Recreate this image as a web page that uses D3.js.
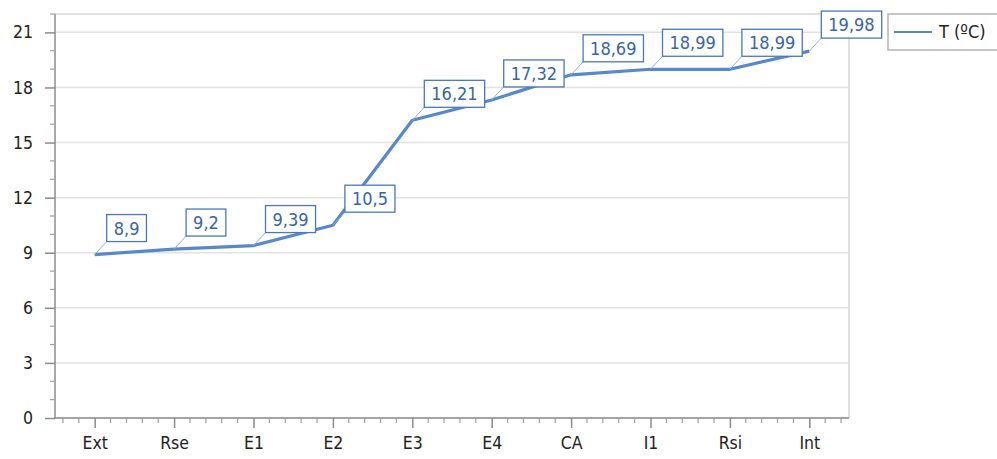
<!DOCTYPE html>
<html>
<head>
<meta charset="utf-8">
<script src="https://cdn.jsdelivr.net/npm/d3@7"></script>
<style>
  html, body { margin: 0; padding: 0; background: #fff; }
  svg { display: block; }
  text { font-family: "DejaVu Sans Condensed", "DejaVu Sans", sans-serif; }
</style>
</head>
<body>
<svg id="chart" width="997" height="459"></svg>
<script>
// Temperature profile through the wall layers
const categories = ["Ext", "Rse", "E1", "E2", "E3", "E4", "CA", "I1", "Rsi", "Int"];
const temperatures = [8.9, 9.2, 9.39, 10.5, 16.21, 17.32, 18.69, 18.99, 18.99, 19.98];
const yTicks = [0, 3, 6, 9, 12, 15, 18, 21];
const seriesName = "T (ºC)";

const W = 997, H = 459;
const plot = { left: 55, right: 849, top: 14, bottom: 418 };

const svg = d3.select("#chart");

const x = d3.scalePoint()
  .domain(categories)
  .range([plot.left, plot.right])
  .padding(0.5);

const y = d3.scaleLinear()
  .domain([0, 22])
  .range([plot.bottom, plot.top]);

const step = x.step();

// gridlines
svg.append("g")
  .selectAll("line")
  .data(yTicks)
  .join("line")
  .attr("x1", plot.left).attr("x2", plot.right)
  .attr("y1", d => y(d)).attr("y2", d => y(d))
  .attr("stroke", "#e2e2e2").attr("stroke-width", 1.5);

// top and right frame
svg.append("path")
  .attr("d", `M${plot.left},${plot.top}H${plot.right}V${plot.bottom}`)
  .attr("fill", "none").attr("stroke", "#d6d6d6").attr("stroke-width", 1.5);

// y axis
const yAxis = svg.append("g")
  .attr("transform", `translate(${plot.left},0)`)
  .call(d3.axisLeft(y).tickValues(yTicks).tickSize(10).tickPadding(12));
yAxis.select(".domain").attr("stroke", "#8c8c8c").attr("stroke-width", 1.5)
  .attr("d", `M0,${plot.top}V${plot.bottom}`);
yAxis.selectAll(".tick line").attr("stroke", "#8c8c8c").attr("stroke-width", 1.5);
yAxis.selectAll(".tick text").attr("fill", "#222").attr("font-size", 17.5);

// y minor ticks
const yMinor = d3.range(0, 23).filter(v => v % 3 !== 0);
svg.append("g")
  .selectAll("line")
  .data(yMinor)
  .join("line")
  .attr("x1", plot.left - 5).attr("x2", plot.left)
  .attr("y1", d => y(d)).attr("y2", d => y(d))
  .attr("stroke", "#a0a0a0").attr("stroke-width", 1.2);

// x axis
const xAxis = svg.append("g")
  .attr("transform", `translate(0,${plot.bottom})`)
  .call(d3.axisBottom(x).tickSize(10).tickPadding(9));
xAxis.select(".domain").attr("stroke", "#8c8c8c").attr("stroke-width", 1.5)
  .attr("d", `M${plot.left},0H${plot.right}`);
xAxis.selectAll(".tick line").attr("stroke", "#8c8c8c").attr("stroke-width", 1.5);
xAxis.selectAll(".tick text").attr("fill", "#222").attr("font-size", 17.5);

// x minor ticks, five per category step
const xMinor = [];
categories.forEach(c => {
  for (let k = -2; k <= 2; k++) {
    if (k === 0) continue;
    const px = x(c) + k * step / 5;
    if (px > plot.left + 1 && px < plot.right) xMinor.push(px);
  }
});
svg.append("g")
  .selectAll("line")
  .data(xMinor)
  .join("line")
  .attr("x1", d => d).attr("x2", d => d)
  .attr("y1", plot.bottom).attr("y2", plot.bottom + 5)
  .attr("stroke", "#a0a0a0").attr("stroke-width", 1.2);

// series line
const lineColor = "#5887cb";
const line = d3.line()
  .x((d, i) => x(categories[i]))
  .y(d => y(d));
svg.append("path")
  .datum(temperatures)
  .attr("d", line)
  .attr("fill", "none")
  .attr("stroke", lineColor)
  .attr("stroke-width", 3.2)
  .attr("stroke-linejoin", "round");

// value labels with leader lines
const fmt = v => String(v).replace(".", ",");
const lbl = svg.append("g");
const dx = 12, dy = -13, boxH = 27, padX = 7;
temperatures.forEach((v, i) => {
  const px = x(categories[i]), py = y(v);
  const bx = px + dx, by = py + dy;
  lbl.append("line")
    .attr("x1", px).attr("y1", py).attr("x2", bx).attr("y2", by)
    .attr("stroke", "#8fb0dc").attr("stroke-width", 1);
  const g = lbl.append("g");
  const rect = g.append("rect")
    .attr("fill", "#fff").attr("stroke", "#4a78b8").attr("stroke-width", 1.3);
  const t = g.append("text")
    .attr("x", bx + padX).attr("y", by - 7)
    .attr("fill", "#3a64a4").attr("font-size", 18)
    .text(fmt(v));
  const w = t.node().getComputedTextLength();
  rect.attr("x", bx).attr("y", by - boxH).attr("width", w + 2 * padX).attr("height", boxH);
});

// legend
const leg = svg.append("g");
leg.append("rect")
  .attr("x", 888).attr("y", 14).attr("width", 120).attr("height", 36)
  .attr("fill", "#fff").attr("stroke", "#b5b5b5").attr("stroke-width", 1.5);
leg.append("line")
  .attr("x1", 894).attr("x2", 932).attr("y1", 32).attr("y2", 32)
  .attr("stroke", lineColor).attr("stroke-width", 2);
leg.append("text")
  .attr("x", 939).attr("y", 38)
  .attr("fill", "#222").attr("font-size", 18)
  .text(seriesName);
</script>
</body>
</html>
